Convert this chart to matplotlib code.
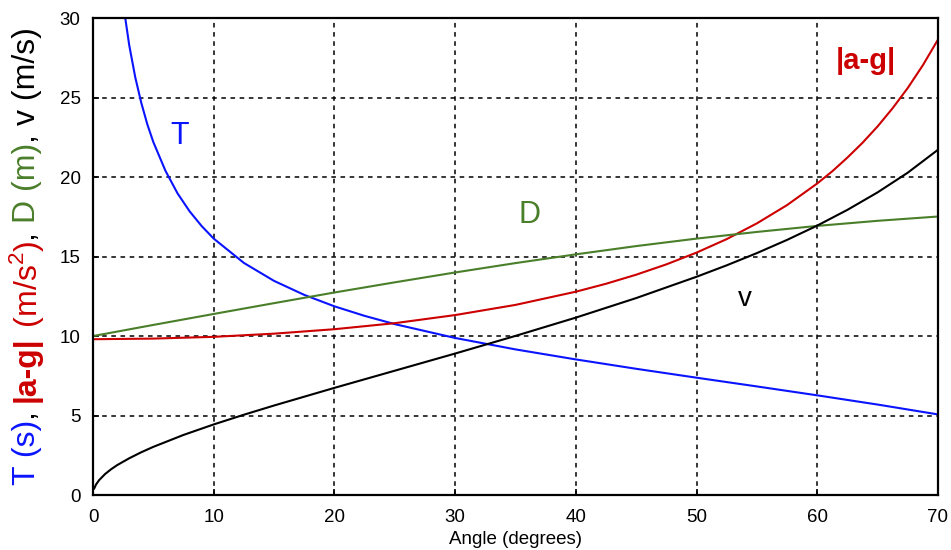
import matplotlib
matplotlib.use('Agg')
import matplotlib.pyplot as plt

plt.rcParams['font.family'] = ['Liberation Sans', 'DejaVu Sans']
plt.rcParams['mathtext.fontset'] = 'custom'
plt.rcParams['mathtext.rm'] = 'Liberation Sans'
plt.rcParams['mathtext.bf'] = 'Liberation Sans:bold'

# values
t_angle = [2.0, 2.5, 3, 3.5, 4, 4.5, 5, 6, 7, 8, 9, 10, 12.5, 15, 17.5, 20, 22.5, 25, 30, 35,
           40, 45, 50, 55, 60, 65, 70]
t_vals = [34.45, 30.9, 28.3, 26.28, 24.67, 23.32, 22.2, 20.4, 18.98, 17.85, 16.92, 16.13, 14.6,
          13.47, 12.59, 11.87, 11.27, 10.75, 9.88, 9.16, 8.53, 7.94, 7.38, 6.83, 6.27, 5.69, 5.07]

ag_angle = [0, 5, 10, 15, 20, 25, 30, 35, 40, 42.5, 45, 47.5, 50, 52.5, 55, 57.5, 60, 61.25,
            62.5, 63.75, 65, 66.25, 67.5, 68.75, 70]
ag_vals = [9.80, 9.84, 9.95, 10.15, 10.43, 10.81, 11.32, 11.96, 12.79, 13.29, 13.86, 14.51,
           15.25, 16.10, 17.09, 18.24, 19.60, 20.37, 21.23, 22.16, 23.19, 24.34, 25.61, 27.04,
           28.65]

d_angle = [0, 5, 10, 15, 20, 25, 30, 35, 40, 45, 50, 55, 60, 65, 70]
d_vals = [10.0, 10.70, 11.39, 12.07, 12.74, 13.38, 14.0, 14.59, 15.14, 15.66, 16.13, 16.55,
          16.93, 17.25, 17.52]

v_angle = [0.1, 0.25, 0.5, 1, 1.5, 2, 3, 4, 5, 7.5, 10, 12.5, 15, 20, 25, 30, 35, 40, 45, 50,
           52.5, 55, 57.5, 60, 62.5, 65, 67.5, 70]
v_vals = [0.41, 0.66, 0.93, 1.32, 1.62, 1.88, 2.31, 2.69, 3.03, 3.78, 4.44, 5.05, 5.63, 6.74,
          7.82, 8.90, 10.01, 11.16, 12.39, 13.73, 14.45, 15.22, 16.05, 16.95, 17.94, 19.04,
          20.28, 21.72]

blue = '#0a14ff'
red = '#cc0000'
green = '#4a7f2a'

fig = plt.figure(figsize=(9.51, 5.5), dpi=100)
ax = fig.add_axes([0.0978, 0.1, 0.8885, 0.867])

ax.plot(t_angle, t_vals, color=blue, lw=1.5)
ax.plot(ag_angle, ag_vals, color=red, lw=1.5)
ax.plot(d_angle, d_vals, color=green, lw=1.5)
ax.plot(v_angle, v_vals, color='black', lw=1.5)

ax.set_xlim(0, 70)
ax.set_ylim(0, 30)
ax.set_xticks(range(0, 71, 10))
ax.set_yticks(range(0, 31, 5))
ax.grid(True, color='black', linestyle=(0, (3, 3)), linewidth=1.1)
ax.tick_params(direction='in', length=4, width=1.2, labelsize=13.5, colors='black')
ax.tick_params(axis='x', pad=10)
ax.tick_params(axis='y', pad=9)
for s in ax.spines.values():
    s.set_linewidth(1.6)

ax.set_xlabel('Angle (degrees)', fontsize=13.5, labelpad=4)

# curve labels
ax.text(7.2, 22.6, 'T', color=blue, fontsize=22, ha='center', va='center')
ax.text(36.2, 17.6, 'D', color=green, fontsize=22, ha='center', va='center')
ax.text(64.0, 27.3, '|a-g|', color=red, fontsize=21, fontweight='bold', ha='center', va='center')
ax.text(54.0, 12.3, 'v', color='black', fontsize=20, ha='center', va='center')

# multicoloured y label, drawn piece by piece from the bottom up,
# then shifted so the whole thing is centred on the axes
parts = [('T (s)', blue, 'normal'), (', ', 'black', 'normal'),
         ('|a-g|', red, 'bold'), (' (m/s$^{2}$)', red, 'normal'), (', ', 'black', 'normal'),
         ('D (m)', green, 'normal'), (', ', 'black', 'normal'), ('v (m/s)', 'black', 'normal')]
fig.canvas.draw()
r = fig.canvas.get_renderer()
x = 27.0
y = 0.0
pieces = []
for txt, col, wt in parts:
    t = fig.text(x / 951, y / 550, txt, color=col, fontsize=23, fontweight=wt,
                 rotation=90, ha='center', va='bottom')
    bb = t.get_window_extent(renderer=r)
    pieces.append((t, y))
    y += bb.height
start = (550 - 256) - y / 2
for t, y0 in pieces:
    t.set_position((x / 951, (start + y0) / 550))

fig.savefig('out.png', dpi=100)
